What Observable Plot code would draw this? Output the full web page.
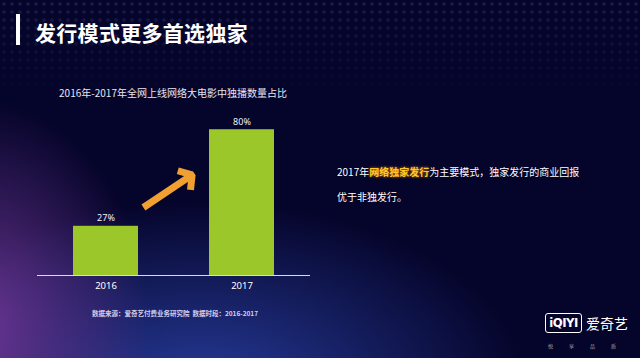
<!DOCTYPE html>
<html><head><meta charset="utf-8">
<script src="https://cdn.jsdelivr.net/npm/d3@7"></script>
<script src="https://cdn.jsdelivr.net/npm/@observablehq/plot@0.6"></script>
<style>
html,body{margin:0;padding:0;}
body{width:640px;height:358px;overflow:hidden;position:relative;font-family:"Noto Sans CJK SC","Noto Sans",sans-serif;
background:
 radial-gradient(ellipse 170px 230px at -20px 330px, rgba(110,55,150,0.95), rgba(110,55,150,0) 100%),
 radial-gradient(ellipse 330px 190px at 200px 390px, rgba(40,62,160,0.95), rgba(40,62,160,0) 100%),
 #05042a;}
.dots{position:absolute;left:0;top:0;width:640px;height:100px;
 background-image:radial-gradient(circle, rgba(110,110,190,0.22) 1.5px, transparent 2.1px);
 background-size:8px 8px;
 -webkit-mask-image:linear-gradient(to bottom, rgba(0,0,0,0.9), rgba(0,0,0,0));
 mask-image:linear-gradient(to bottom, rgba(0,0,0,0.9), rgba(0,0,0,0));}
.bar{position:absolute;left:16px;top:14px;width:4px;height:31px;background:#fff;}
.title{position:absolute;left:35px;top:18px;font-size:21px;font-weight:bold;color:#fff;line-height:28px;letter-spacing:0.3px;}
.sub{position:absolute;left:0;width:346px;text-align:center;top:86px;font-size:10px;color:#e6e6f2;line-height:14px;}
#chart{position:absolute;left:0;top:100px;}
.txt{position:absolute;left:337px;font-size:10px;color:#fff;line-height:14px;white-space:nowrap;}
.hl{color:#ffc928;text-shadow:0 0 3px rgba(255,150,0,0.9);font-weight:bold;}
.src{position:absolute;left:0;width:350px;text-align:center;top:309px;font-size:6.5px;font-weight:bold;color:#d0d0ee;line-height:9px;}
.logo{position:absolute;left:545px;top:313px;}
.box{position:absolute;left:0;top:0;width:35px;height:18px;border:1.5px solid #fff;border-radius:3px;color:#fff;font-weight:bold;font-size:13px;line-height:18px;text-align:center;font-family:"DejaVu Sans Condensed","DejaVu Sans",sans-serif;letter-spacing:-0.5px;}
.brand{position:absolute;left:41px;top:0px;color:#fff;font-size:14px;line-height:20px;white-space:nowrap;}
.slog{position:absolute;left:3px;top:29px;color:#aaa;font-size:5px;white-space:nowrap;letter-spacing:16px;}
</style></head>
<body>
<div class="dots"></div>
<div class="bar"></div>
<div class="title">发行模式更多首选独家</div>
<div class="sub">2016年-2017年全网上线网络大电影中独播数量占比</div>
<div id="chart"></div>
<div class="txt" style="top:165px">2017年<span class="hl">网络独家发行</span>为主要模式，独家发行的商业回报</div>
<div class="txt" style="top:190px">优于非独发行。</div>
<div class="src">数据来源：爱奇艺付费业务研究院&nbsp; 数据时段：2016-2017</div>
<div class="logo"><div class="box">iQIYI</div><div class="brand">爱奇艺</div><div class="slog">悦享品质</div></div>
<script>
const years = ["2016", "2017"];
const shares = [27, 80];
const labels = ["27%", "80%"];
const arrowFrom = {year: "2016", value: 23.6};
const arrowTo = {year: "2017", value: 73.5};

const data = years.map((y, i) => ({year: y, value: shares[i], label: labels[i]}));

const chart = Plot.plot({
  width: 330, height: 200,
  marginLeft: 37, marginRight: 20, marginTop: 11, marginBottom: 25,
  style: {background: "transparent", color: "#fff", fontFamily: "'Noto Sans','Noto Sans CJK SC',sans-serif", fontSize: "9.5px"},
  x: {domain: years, paddingInner: 0.52, paddingOuter: 0.26, label: null, tickSize: 0, tickPadding: 7},
  y: {domain: [0, 90], axis: null},
  marks: [
    Plot.barY(data, {x: "year", y: "value", fill: "#9bc72a"}),
    Plot.text(data, {x: "year", y: "value", text: "label", dy: -8, fill: "#f2f2f8", fontSize: 9}),
    Plot.ruleY([0], {stroke: "#d8d8f0", strokeWidth: 1}),
    Plot.arrow([{}], {
      x1: () => arrowFrom.year, y1: () => arrowFrom.value,
      x2: () => arrowTo.year, y2: () => arrowTo.value,
      insetStart: 45, insetEnd: 60,
      stroke: "#f0a030", strokeWidth: 7, headLength: 3.2, headAngle: 100, strokeLinejoin: "miter", strokeLinecap: "butt"
    })
  ]
});
document.getElementById("chart").appendChild(chart);
</script>
</body></html>
